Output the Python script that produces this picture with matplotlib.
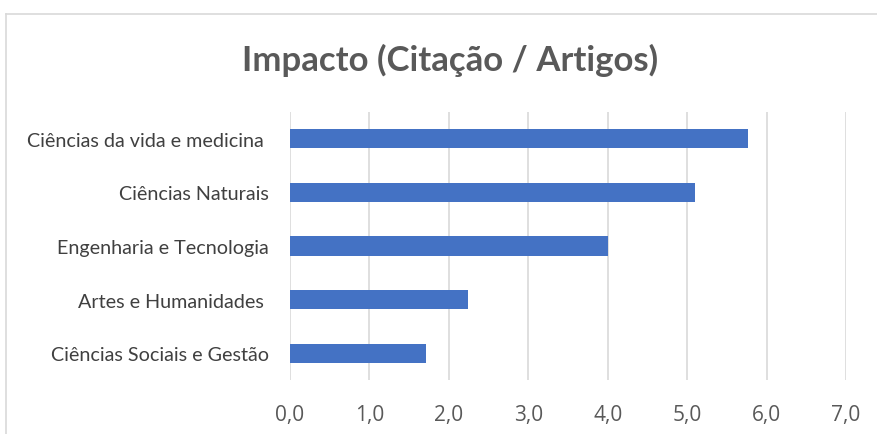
import matplotlib.pyplot as plt
from matplotlib.lines import Line2D
from matplotlib.ticker import FuncFormatter

# Impact values
categories = ['Ciências da vida e medicina ', 'Ciências Naturais', 'Engenharia e Tecnologia',
              'Artes e Humanidades ', 'Ciências Sociais e Gestão']
impacto = [5.77, 5.10, 4.00, 2.24, 1.71]
x_ticks = [0, 1, 2, 3, 4, 5, 6, 7]

bar_color = '#4472C4'
grid_color = '#D9D9D9'
text_color = '#595959'

fig = plt.figure(figsize=(8.77, 4.35), dpi=100)
ax = fig.add_axes([0.3307, 0.1241, 0.634, 0.616])

pos = list(range(len(categories)))
ax.barh(pos, impacto, height=0.36, color=bar_color, zorder=3)
ax.set_ylim(len(categories) - 0.5, -0.5)
ax.set_xlim(0, 7)
ax.set_xticks(x_ticks)
ax.xaxis.set_major_formatter(FuncFormatter(lambda v, _: f'{v:.1f}'.replace('.', ',')))
ax.set_yticks(pos)
ax.set_yticklabels(categories, fontfamily='Lato', fontsize=14.2, color='#404040')

for lbl in ax.get_xticklabels():
    lbl.set_fontfamily('Open Sans')
    lbl.set_fontsize(15)
    lbl.set_color(text_color)

ax.tick_params(axis='both', length=0)
ax.tick_params(axis='x', pad=17)
ax.tick_params(axis='y', pad=15)
ax.grid(axis='x', color=grid_color, linewidth=1.2, zorder=0)
for s in ax.spines.values():
    s.set_visible(False)

fig.text(0.513, 0.862, 'Impacto (Citação / Artigos)', ha='center', va='center',
         fontfamily='Lato', fontweight='bold', fontsize=25, color=text_color)

# chart area border (top and left visible in the crop)
fig.add_artist(Line2D([6 / 877, 6 / 877], [0, 1 - 15 / 435], color=grid_color, linewidth=1.2,
                      transform=fig.transFigure))
fig.add_artist(Line2D([6 / 877, 1], [1 - 15 / 435, 1 - 15 / 435], color=grid_color, linewidth=1.2,
                      transform=fig.transFigure))

fig.savefig('out.png', dpi=100)
